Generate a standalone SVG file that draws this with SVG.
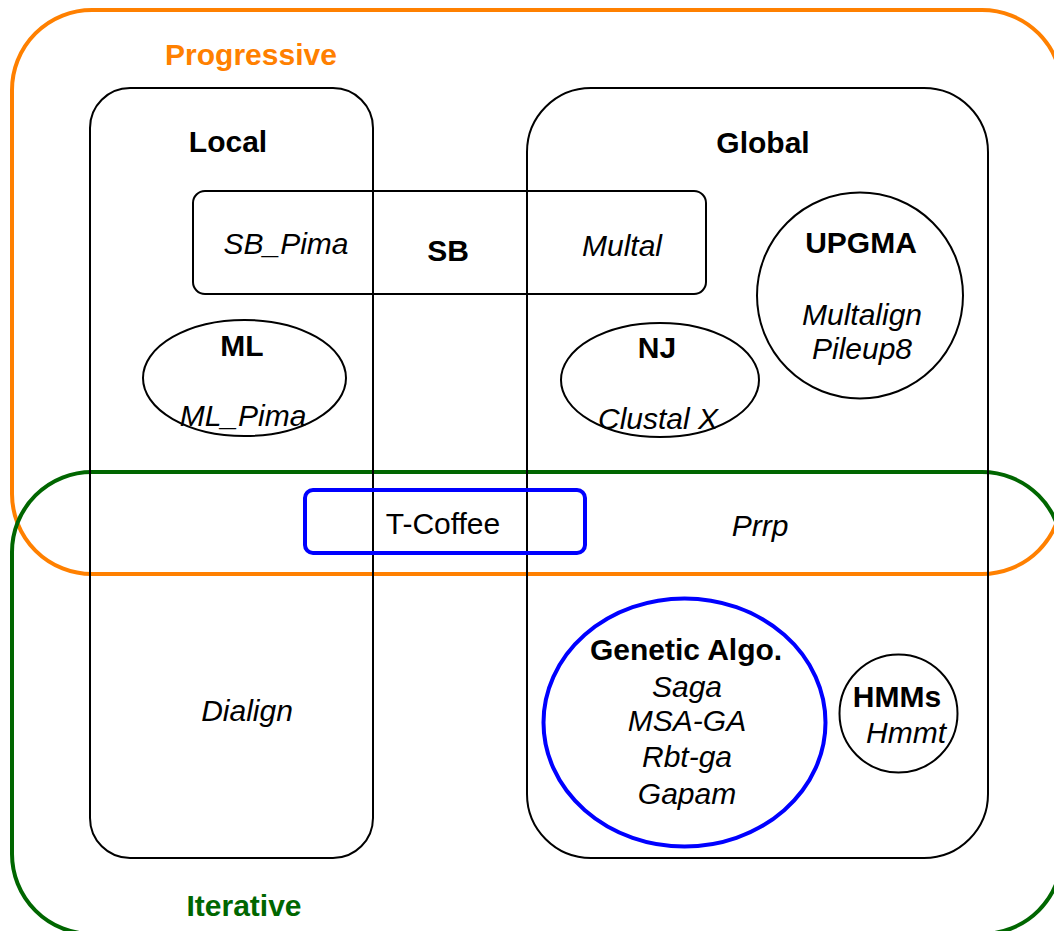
<svg xmlns="http://www.w3.org/2000/svg" width="1054" height="931" viewBox="0 0 1054 931">
  <style>
    .region { fill: none; stroke-width: 4; }
    .box { fill: none; stroke: #000; stroke-width: 2; }
    .blue { fill: none; stroke: #0000FF; stroke-width: 4; }
    text { font-family: "Liberation Sans", Arial, Helvetica, sans-serif; font-size: 30px; text-anchor: middle; fill: #000; }
    .b { font-weight: bold; }
    .i { font-style: italic; }
  </style>
  <rect width="1054" height="931" fill="#fff"/>

  <!-- Progressive region -->
  <g id="progressive">
    <rect class="region" stroke="#FF8000" x="12" y="10" width="1050" height="564" rx="80" ry="80"/>
    <text class="b" x="251" y="65" fill="#FF8000" style="fill:#FF8000">Progressive</text>
  </g>

  <!-- Iterative region -->
  <g id="iterative">
    <rect class="region" stroke="#006600" x="12" y="472" width="1050" height="462" rx="80" ry="80"/>
    <text class="b" x="244" y="916" style="fill:#006600">Iterative</text>
  </g>

  <!-- Local alignment column -->
  <g id="local">
    <rect class="box" x="90" y="88" width="283" height="770" rx="40" ry="40"/>
    <text class="b" x="228" y="152">Local</text>
    <text class="i" x="247" y="721">Dialign</text>
  </g>

  <!-- Global alignment column -->
  <g id="global">
    <rect class="box" x="527" y="88" width="461" height="770" rx="64" ry="64"/>
    <text class="b" x="763" y="153">Global</text>
    <text class="i" x="760" y="536">Prrp</text>
  </g>

  <!-- SB spans both columns -->
  <g id="sb">
    <rect class="box" x="193" y="191" width="513" height="103" rx="12" ry="12"/>
    <text class="i" x="286" y="254">SB_Pima</text>
    <text class="b" x="448" y="261">SB</text>
    <text class="i" x="622" y="256">Multal</text>
  </g>

  <g id="ml">
    <ellipse class="box" cx="244.5" cy="378" rx="101.5" ry="58"/>
    <text class="b" x="242" y="356">ML</text>
    <text class="i" x="243" y="426">ML_Pima</text>
  </g>

  <g id="nj">
    <ellipse class="box" cx="660" cy="380" rx="99" ry="57"/>
    <text class="b" x="657" y="358">NJ</text>
    <text class="i" x="658" y="429">Clustal X</text>
  </g>

  <g id="upgma">
    <circle class="box" cx="860" cy="295.5" r="103"/>
    <text class="b" x="861" y="253">UPGMA</text>
    <text class="i" x="862" y="325">Multalign</text>
    <text class="i" x="862" y="359">Pileup8</text>
  </g>

  <g id="tcoffee">
    <rect class="blue" x="305" y="490" width="280" height="63" rx="8" ry="8"/>
    <text x="443" y="534">T-Coffee</text>
  </g>

  <g id="genetic">
    <ellipse class="blue" cx="684.5" cy="722.5" rx="141" ry="124"/>
    <text class="b" x="686" y="660">Genetic Algo.</text>
    <text class="i" x="687" y="697">Saga</text>
    <text class="i" x="687" y="731">MSA-GA</text>
    <text class="i" x="687" y="767">Rbt-ga</text>
    <text class="i" x="687" y="804">Gapam</text>
  </g>

  <g id="hmms">
    <circle class="box" cx="898.5" cy="713.5" r="59"/>
    <text class="b" x="897" y="707">HMMs</text>
    <text class="i" x="906" y="743">Hmmt</text>
  </g>

  <!-- no connectors in this diagram -->
  <g id="connectors"/>
</svg>
